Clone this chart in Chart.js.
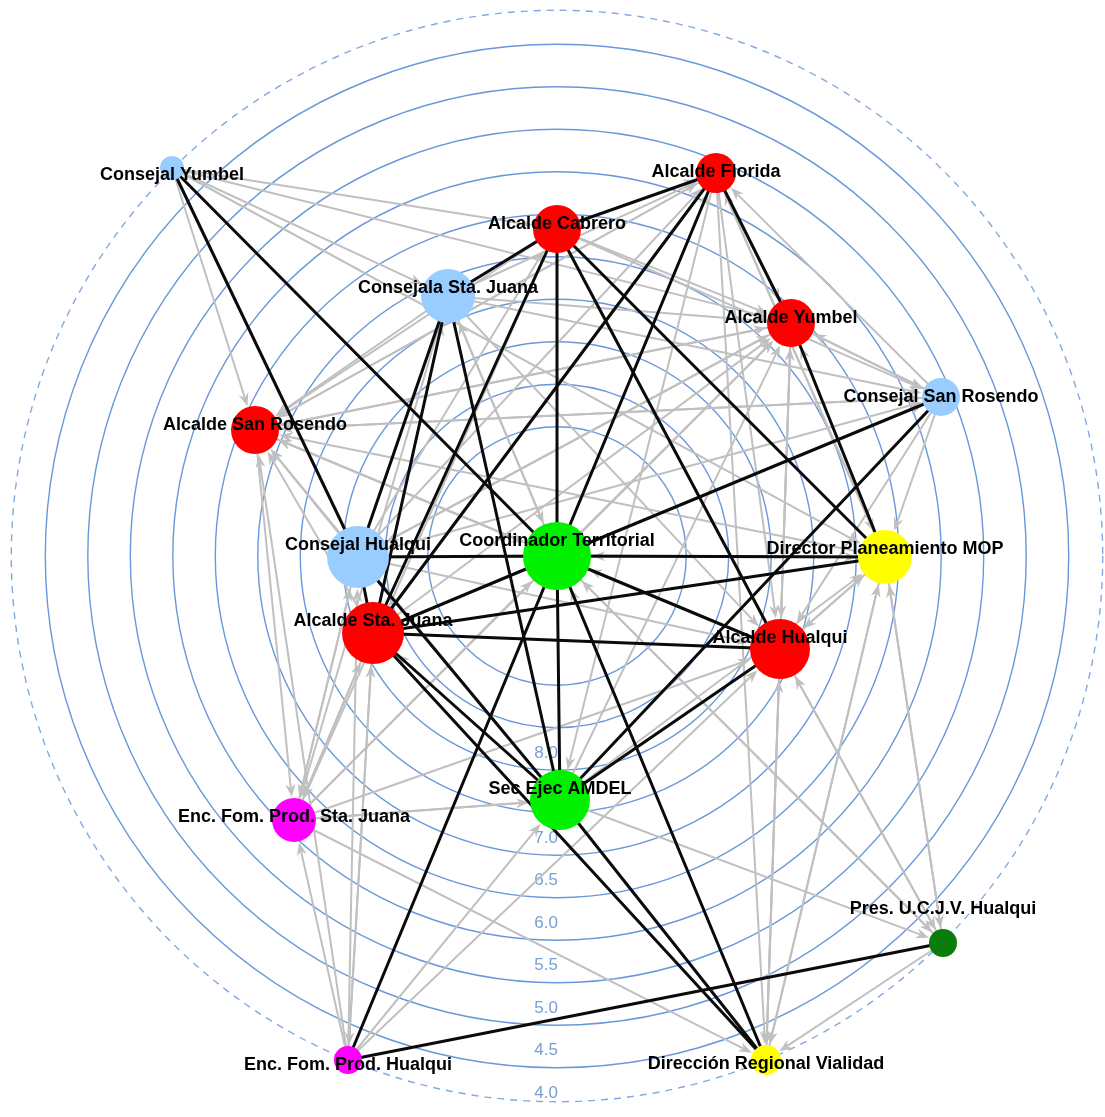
<!DOCTYPE html>
<html>
<head>
<meta charset="utf-8">
<script src="https://cdn.jsdelivr.net/npm/chart.js@4.4.1/dist/chart.umd.min.js"></script>
<style>
  html, body { margin: 0; padding: 0; background: #fff; }
  #wrap { width: 1105px; height: 1117px; }
</style>
</head>
<body>
<div id="wrap"><canvas id="net"></canvas></div>
<script>
// actors of the network (layout coordinates, centre = most central actor)
const nodeIds = ['CY', 'AF', 'AC', 'CSJ', 'AY', 'CSR', 'ASR', 'CT', 'CH', 'DP', 'ASJ', 'AH', 'SE', 'EFSJ', 'PU', 'EFH', 'DRV'];
const nodeLabels = [
  'Consejal Yumbel', 'Alcalde Florida', 'Alcalde Cabrero', 'Consejala Sta. Juana', 'Alcalde Yumbel',
  'Consejal San Rosendo', 'Alcalde San Rosendo', 'Coordinador Territorial', 'Consejal Hualqui',
  'Director Planeamiento MOP', 'Alcalde Sta. Juana', 'Alcalde Hualqui', 'Sec Ejec AMDEL',
  'Enc. Fom. Prod. Sta. Juana', 'Pres. U.C.J.V. Hualqui', 'Enc. Fom. Prod. Hualqui', 'Dirección Regional Vialidad'
];
const nodeX = [-385, 159, 0, -109, 234, 384, -302, 0, -199, 328, -184, 223, 3, -263, 386, -209, 209];
const nodeY = [388, 383, 327, 260, 233, 159, 126, 0, -1, -1, -77, -93, -244, -264, -387, -504, -504];
const nodeDegree = [12, 20, 24, 27, 24, 19, 24, 34, 31, 27, 31, 30, 30, 22, 14, 14, 15];
const nodeGroup = ['concejal', 'alcalde', 'alcalde', 'concejal', 'alcalde', 'concejal', 'alcalde', 'amdel', 'concejal',
  'gobierno', 'alcalde', 'alcalde', 'amdel', 'fomento', 'vecinal', 'fomento', 'gobierno'];

// centrality rings and their tick labels
const ringLevels = [4.3, 4.8, 5.3, 5.8, 6.3, 6.8, 7.3, 7.8, 8.3, 8.8];
const outerLevel = 3.9;
const tickValues = [8.0, 7.5, 7.0, 6.5, 6.0, 5.5, 5.0, 4.5, 4.0];
const tickLabels = ['8.0', '7.5', '7.0', '6.5', '6.0', '5.5', '5.0', '4.5', '4.0'];

// reciprocal (strong) ties
const strongTies = [
  ['CY', 'CT'], ['CY', 'CH'],
  ['AF', 'AC'], ['AF', 'AY'], ['AF', 'ASJ'], ['AF', 'CT'],
  ['AC', 'CSJ'], ['AC', 'CT'], ['AC', 'ASJ'], ['AC', 'AH'], ['AC', 'DP'],
  ['AY', 'DP'], ['CSR', 'CT'], ['CSR', 'SE'],
  ['CT', 'DP'], ['CT', 'CH'], ['CT', 'AH'], ['CT', 'SE'], ['CT', 'ASJ'], ['CT', 'DRV'],
  ['ASJ', 'DP'], ['ASJ', 'AH'], ['ASJ', 'SE'], ['ASJ', 'DRV'], ['ASJ', 'CH'],
  ['SE', 'AH'], ['SE', 'DRV'], ['CH', 'SE'],
  ['CSJ', 'CH'], ['CSJ', 'ASJ'], ['CSJ', 'SE'],
  ['EFH', 'PU'], ['EFH', 'CT']
];

// directed (weak) ties: source -> target
const weakTies = [
  ['CY', 'AC'], ['CY', 'AY'], ['CY', 'CSJ'], ['CY', 'ASR'], ['CY', 'DP'],
  ['AF', 'AY'], ['AF', 'DP'], ['AF', 'AH'], ['AF', 'SE'], ['AF', 'ASR'], ['AF', 'DRV'],
  ['AC', 'AY'], ['AC', 'CSR'], ['AC', 'ASR'], ['AC', 'AF'], ['AC', 'EFSJ'],
  ['CSJ', 'AF'], ['CSJ', 'AY'], ['CSJ', 'ASR'], ['CSJ', 'CT'], ['CSJ', 'EFSJ'], ['CSJ', 'CSR'], ['CSJ', 'AH'],
  ['ASR', 'AY'], ['ASR', 'AF'], ['ASR', 'CSR'], ['ASR', 'EFSJ'], ['ASR', 'CT'],
  ['CH', 'ASR'], ['CH', 'AY'], ['CH', 'AF'], ['CH', 'CSR'], ['CH', 'EFSJ'], ['CH', 'AH'], ['CH', 'DP'], ['CH', 'AC'],
  ['ASJ', 'ASR'], ['ASJ', 'AY'], ['ASJ', 'EFSJ'], ['ASJ', 'CSR'], ['ASJ', 'EFH'], ['ASJ', 'CSJ'],
  ['CT', 'AY'], ['CT', 'ASR'], ['CT', 'AF'], ['CT', 'PU'], ['CT', 'CSR'], ['CT', 'CSJ'],
  ['DP', 'AY'], ['DP', 'ASR'], ['DP', 'AH'], ['DP', 'CT'], ['DP', 'PU'], ['DP', 'DRV'], ['DP', 'AF'],
  ['CSR', 'AY'], ['CSR', 'DP'], ['CSR', 'AH'], ['CSR', 'ASR'], ['CSR', 'AF'],
  ['AY', 'CSR'], ['AY', 'ASR'], ['AY', 'AH'], ['AY', 'DRV'], ['AY', 'CH'],
  ['AH', 'AY'], ['AH', 'DP'], ['AH', 'ASR'], ['AH', 'CT'], ['AH', 'DRV'], ['AH', 'PU'],
  ['SE', 'AY'], ['SE', 'DP'], ['SE', 'PU'], ['SE', 'ASR'], ['SE', 'EFSJ'], ['SE', 'ASJ'],
  ['EFSJ', 'ASJ'], ['EFSJ', 'SE'], ['EFSJ', 'AH'], ['EFSJ', 'DRV'], ['EFSJ', 'AY'], ['EFSJ', 'CT'], ['EFSJ', 'CH'],
  ['EFH', 'ASJ'], ['EFH', 'EFSJ'], ['EFH', 'SE'], ['EFH', 'CH'], ['EFH', 'AH'], ['EFH', 'ASR'],
  ['PU', 'DRV'], ['PU', 'DP'], ['PU', 'AH'], ['PU', 'CT'],
  ['DRV', 'AH'], ['DRV', 'DP'], ['DRV', 'CT']
];

const groupColours = {
  alcalde: '#ff0000', concejal: '#99ccff', amdel: '#00f000',
  gobierno: '#ffff00', fomento: '#ff00ff', vecinal: '#0b7d0b'
};
const centreLevel = 10.32;
const unitsPerLevel = 85;
const levelRadius = (v) => (centreLevel - v) * unitsPerLevel;

const nodePixel = (chart, i) => ({
  x: chart.scales.x.getPixelForValue(nodeX[i]),
  y: chart.scales.y.getPixelForValue(nodeY[i]),
  r: nodeDegree[i]
});

const ringsPlugin = {
  id: 'rings',
  beforeDatasetsDraw(chart) {
    const { ctx, scales } = chart;
    const cx = scales.x.getPixelForValue(0);
    const cy = scales.y.getPixelForValue(0);
    const rad = (v) => scales.x.getPixelForValue(levelRadius(v)) - cx;
    ctx.save();
    ctx.strokeStyle = 'rgb(105,152,218)';
    ctx.lineWidth = 1.4;
    ringLevels.forEach((v) => {
      ctx.beginPath();
      ctx.arc(cx, cy, rad(v), 0, Math.PI * 2);
      ctx.stroke();
    });
    ctx.setLineDash([7, 6]);
    ctx.strokeStyle = 'rgb(130,170,225)';
    ctx.beginPath();
    ctx.arc(cx, cy, rad(outerLevel), 0, Math.PI * 2);
    ctx.stroke();
    ctx.setLineDash([]);
    // tick labels down the vertical
    ctx.fillStyle = 'rgb(120,160,215)';
    ctx.font = '17px "Liberation Sans", Arial, sans-serif';
    ctx.textAlign = 'right';
    ctx.textBaseline = 'middle';
    tickValues.forEach((v, i) => {
      const y = scales.y.getPixelForValue(-levelRadius(v));
      ctx.fillText(tickLabels[i], cx + 1, y);
    });
    ctx.restore();
  }
};

function drawTie(ctx, a, b, colour, width, arrow) {
  const dx = b.x - a.x, dy = b.y - a.y;
  const len = Math.hypot(dx, dy);
  const ux = dx / len, uy = dy / len;
  const tipX = b.x - ux * (b.r + 1), tipY = b.y - uy * (b.r + 1);
  const head = 13, half = 5;
  const endX = arrow ? tipX - ux * head * 0.8 : b.x;
  const endY = arrow ? tipY - uy * head * 0.8 : b.y;
  ctx.strokeStyle = colour;
  ctx.lineWidth = width;
  ctx.beginPath();
  ctx.moveTo(a.x, a.y);
  ctx.lineTo(endX, endY);
  ctx.stroke();
  if (arrow) {
    const bx = tipX - ux * head, by = tipY - uy * head;
    ctx.fillStyle = colour;
    ctx.beginPath();
    ctx.moveTo(tipX, tipY);
    ctx.lineTo(bx - uy * half, by + ux * half);
    ctx.lineTo(tipX - ux * head * 0.7, tipY - uy * head * 0.7);
    ctx.lineTo(bx + uy * half, by - ux * half);
    ctx.closePath();
    ctx.fill();
  }
}

const tiesPlugin = {
  id: 'ties',
  beforeDatasetsDraw(chart) {
    const { ctx } = chart;
    const idx = (id) => nodeIds.indexOf(id);
    ctx.save();
    ctx.lineCap = 'round';
    weakTies.forEach(([s, t]) => {
      drawTie(ctx, nodePixel(chart, idx(s)), nodePixel(chart, idx(t)), 'rgb(192,192,192)', 2, true);
    });
    strongTies.forEach(([s, t]) => {
      drawTie(ctx, nodePixel(chart, idx(s)), nodePixel(chart, idx(t)), 'rgb(10,10,10)', 3, false);
    });
    ctx.restore();
  }
};

const labelsPlugin = {
  id: 'nodeLabels',
  afterDatasetsDraw(chart) {
    const { ctx } = chart;
    ctx.save();
    ctx.font = 'bold 18px "Liberation Sans", Arial, sans-serif';
    ctx.fillStyle = '#000';
    ctx.textAlign = 'center';
    ctx.textBaseline = 'middle';
    nodeLabels.forEach((label, i) => {
      const p = nodePixel(chart, i);
      const top = p.y - p.r;
      const y = nodeIds[i] === 'PU' ? top - 20 : top + 19;
      ctx.fillText(label, p.x, y);
    });
    ctx.restore();
  }
};

new Chart(document.getElementById('net'), {
  type: 'scatter',
  data: {
    datasets: [{
      label: 'Actores',
      data: nodeX.map((x, i) => ({ x: x, y: nodeY[i] })),
      backgroundColor: nodeGroup.map((g) => groupColours[g]),
      borderWidth: 0,
      pointRadius: nodeDegree,
      pointHoverRadius: nodeDegree,
      clip: false
    }]
  },
  options: {
    responsive: true,
    maintainAspectRatio: false,
    animation: false,
    layout: { padding: 0, autoPadding: false },
    plugins: { legend: { display: false }, tooltip: { enabled: false } },
    scales: {
      x: { type: 'linear', display: false, min: -557, max: 548 },
      y: { type: 'linear', display: false, min: -561, max: 556 }
    }
  },
  plugins: [ringsPlugin, tiesPlugin, labelsPlugin]
});
</script>
</body>
</html>
